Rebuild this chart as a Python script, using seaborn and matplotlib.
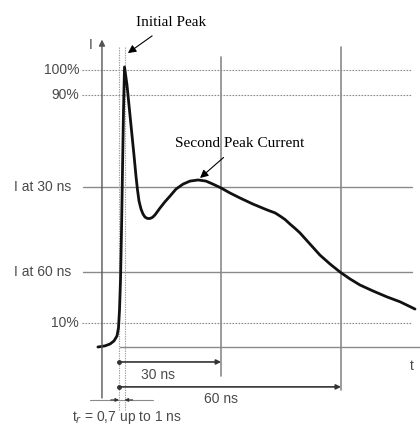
import matplotlib
matplotlib.use("Agg")
import matplotlib.pyplot as plt
import seaborn as sns
import pandas as pd

# ESD current waveform (schematic), time in ns, current in % of peak
t_ns = [-5.7, -3.8, -2.4, -1.35, -0.54, -0.14, 0.14, 0.41, 0.68, 0.95, 1.22, 1.49,
        2.16, 3.24, 4.05, 4.59, 5.0, 5.41, 5.95, 6.49, 7.03, 7.70, 8.38, 9.05, 9.73,
        11.1, 12.4, 13.8, 15.4, 17.3, 19.2, 21.4, 23.5, 25.4, 27.6, 30.0, 32.7,
        36.2, 40.0, 42.2, 43.5, 44.9, 46.2, 47.6, 48.9, 51.6, 54.3, 57.0, 59.7,
        62.4, 65.1, 68.7, 72.4, 76.0, 80.0]
current_pct = [0.0, 0.4, 1.1, 2.2, 4.0, 6.9, 13.4, 24.2, 42.2, 63.9, 85.6, 101.1,
               94.6, 80.1, 69.3, 61.7, 56.7, 52.7, 49.8, 48.0, 46.9, 46.4, 46.4, 46.8, 47.7,
               50.2, 52.4, 54.5, 57.0, 58.8, 59.9, 60.3, 59.9, 58.8, 57.4, 55.6, 53.8,
               51.6, 49.5, 48.4, 47.3, 46.0, 44.4, 42.8, 41.2, 37.2, 33.2, 30.0, 27.1,
               24.6, 22.4, 20.2, 18.1, 16.3, 13.7]

# reference levels as drawn (diagram is not to scale)
level_labels = ["100%", "90%", "I at 30 ns", "I at 60 ns", "10%"]
level_values = [100.0, 91.0, 57.8, 27.1, 8.7]
level_dotted = [True, True, False, False, True]

# time markers as drawn
mark_labels = ["30 ns", "60 ns"]
mark_times = [27.6, 60.0]
rise_times = [0.0, 1.5]

df = pd.DataFrame({"t": t_ns, "i": current_pct})

sns.set_theme(style="white")
plt.rcParams["font.family"] = ["Liberation Sans", "DejaVu Sans"]

fig = plt.figure(figsize=(4.2, 4.28), dpi=100)
ax = fig.add_axes([0, 0, 1, 1])

grey = "#8a8a8a"
txt = "#4a4a4a"

# horizontal level lines + labels
for lab, val, dotted in zip(level_labels, level_values, level_dotted):
    if dotted:
        ax.plot([-10.0, 79.2], [val, val], color=grey, lw=0.8, ls=(0, (1.5, 1.2)))
        ax.text(-10.8, val, lab, ha="right", va="center", fontsize=10, color=txt)
    else:
        ax.plot([-9.7, 79.2], [val, val], color=grey, lw=1.0)
        ax.text(-12.8, val, lab, ha="right", va="center", fontsize=10, color=txt)

# t axis
ax.plot([0.3, 81.35], [0, 0], color=grey, lw=1.0)
ax.text(79.2, -7.0, "t", ha="center", va="center", fontsize=10, color=txt)

# I axis with arrow
ax.annotate("", xy=(-4.6, 111.0), xytext=(-4.6, -18.4),
            arrowprops=dict(arrowstyle="-|>", color="#555555", lw=1.0,
                            mutation_scale=9, shrinkA=0, shrinkB=0))
ax.text(-7.6, 109.0, "I", ha="center", va="center", fontsize=10, color=txt)

# rise time dotted verticals
for tr in rise_times:
    ax.plot([tr, tr], [108.3, -22.7], color="#a0a0a0", lw=0.8, ls=(0, (1.2, 1.0)))

# vertical marker lines
ax.plot([mark_times[0], mark_times[0]], [104.7, -10.5], color=grey, lw=1.2)
ax.plot([mark_times[1], mark_times[1]], [108.3, -15.5], color=grey, lw=1.2)

# duration arrows
for tm, ya, lab, xl, yl in zip(mark_times, [-5.4, -14.4], mark_labels,
                               [10.5, 27.6], [-10.1, -18.6]):
    ax.annotate("", xy=(tm, ya), xytext=(0, ya),
                arrowprops=dict(arrowstyle="-|>", color="#333333", lw=1.2,
                                mutation_scale=7, shrinkA=0, shrinkB=0))
    ax.plot([0], [ya], marker="o", ms=2.5, color="#333333")
    ax.text(xl, yl, lab, ha="center", va="center", fontsize=10, color=txt)

# rise-time bracket
ax.plot([-7.8, 9.2], [-19.1, -19.1], color=grey, lw=0.8)
ax.annotate("", xy=(0, -19.1), xytext=(-2.2, -19.1),
            arrowprops=dict(arrowstyle="-|>", color="#333333", lw=0.8,
                            mutation_scale=5, shrinkA=0, shrinkB=0))
ax.annotate("", xy=(1.5, -19.1), xytext=(3.7, -19.1),
            arrowprops=dict(arrowstyle="-|>", color="#333333", lw=0.8,
                            mutation_scale=5, shrinkA=0, shrinkB=0))
ax.text(2.2, -25.6, r"t$_r$ = 0,7 up to 1 ns", ha="center", va="center",
        fontsize=10, color=txt)

# waveform
sns.lineplot(data=df, x="t", y="i", sort=False, color="#111111", lw=2.0,
             estimator=None, ax=ax, solid_joinstyle="round", solid_capstyle="round")
ax.set_xlim(-32.16, 81.35)
ax.set_ylim(-29.24, 125.27)
ax.axis("off")

# callouts
serif = ["Liberation Serif", "DejaVu Serif"]
ax.annotate("Initial Peak", xy=(2.4, 106.1), xytext=(14.2, 117.3),
            ha="center", va="center", fontsize=11, family=serif, color="black",
            arrowprops=dict(arrowstyle="-|>", color="black", lw=0.8,
                            mutation_scale=12, shrinkA=5, shrinkB=0))
ax.annotate("Second Peak Current", xy=(21.9, 61.0), xytext=(32.7, 73.6),
            ha="center", va="center", fontsize=11, family=serif, color="black",
            arrowprops=dict(arrowstyle="-|>", color="black", lw=0.8,
                            mutation_scale=12, shrinkA=5, shrinkB=0))

fig.savefig("out.png", dpi=100)
